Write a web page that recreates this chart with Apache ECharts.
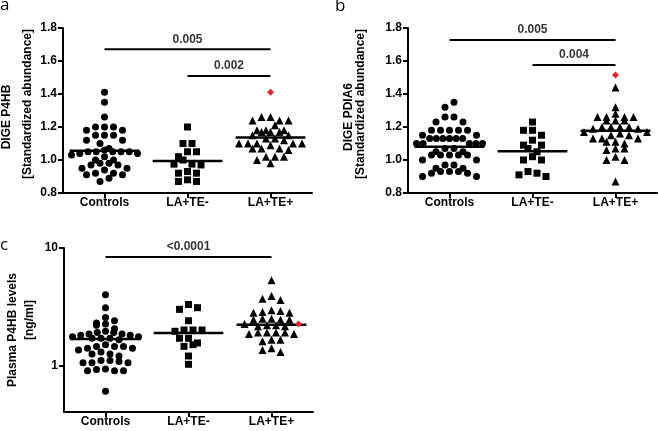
<!DOCTYPE html>
<html><head><meta charset="utf-8">
<script src="https://cdn.jsdelivr.net/npm/echarts@6/dist/echarts.min.js"></script>
<style>html,body{margin:0;padding:0;background:#fff}#c{width:658px;height:431px}</style>
</head><body><div id="c"></div>
<script>
const categories = ['Controls', 'LA+TE-', 'LA+TE+'];

// Panel a: DIGE P4HB
const aControls = [1.41, 1.35, 1.26, 1.20, 1.20, 1.20, 1.18, 1.18, 1.15, 1.15, 1.15, 1.12, 1.12, 1.10, 1.07, 1.06, 1.05, 1.05, 1.05, 1.05, 1.05, 1.04, 1.04, 1.03, 1.02, 1.00, 1.00, 0.98, 0.98, 0.97, 0.97, 0.95, 0.95, 0.94, 0.92, 0.92, 0.91, 0.91, 0.89, 0.87];
const aLaTeMinus = [1.20, 1.10, 1.10, 1.05, 1.05, 1.02, 1.00, 0.975, 0.975, 0.97, 0.93, 0.92, 0.92, 0.88, 0.87, 0.87];
const aLaTePlus = [1.26, 1.26, 1.24, 1.24, 1.24, 1.21, 1.18, 1.18, 1.18, 1.17, 1.17, 1.17, 1.15, 1.15, 1.13, 1.13, 1.12, 1.10, 1.10, 1.10, 1.10, 1.10, 1.09, 1.07, 1.07, 1.07, 1.06, 1.02, 1.02, 1.02, 1.00, 0.98];
const aRed = 1.41;
const aCenter = [1.056, 0.994, 1.137];
const aSigValues = [1.671, 1.509];
const aSigLabels = ['0.005', '0.002'];
const aSigFrom = [0, 1];
const aSigTo = [2, 2];

// Panel b: DIGE PDIA6
const bControls = [1.35, 1.32, 1.26, 1.26, 1.23, 1.23, 1.18, 1.18, 1.18, 1.18, 1.18, 1.15, 1.15, 1.13, 1.13, 1.13, 1.13, 1.13, 1.13, 1.10, 1.10, 1.10, 1.10, 1.10, 1.07, 1.07, 1.05, 1.05, 1.03, 1.03, 1.03, 1.03, 1.03, 1.00, 1.00, 0.97, 0.97, 0.95, 0.95, 0.93, 0.93, 0.93, 0.92, 0.92, 0.90, 0.90];
const bLaTeMinus = [1.23, 1.18, 1.18, 1.15, 1.12, 1.09, 1.09, 1.07, 1.05, 1.02, 1.00, 1.00, 0.93, 0.92, 0.91, 0.90];
const bLaTePlus = [1.44, 1.32, 1.26, 1.26, 1.26, 1.26, 1.28, 1.24, 1.24, 1.24, 1.20, 1.20, 1.20, 1.20, 1.19, 1.19, 1.17, 1.17, 1.16, 1.15, 1.15, 1.13, 1.13, 1.13, 1.11, 1.11, 1.10, 1.07, 1.07, 1.06, 1.02, 1.00, 1.00, 0.87];
const bRed = 1.515;
const bCenter = [1.08, 1.053, 1.177];
const bSigValues = [1.727, 1.576];
const bSigLabels = ['0.005', '0.004'];
const bSigFrom = [0, 1];
const bSigTo = [2, 2];

// Panel c: Plasma P4HB levels (log axis)
const cControls = [4.0, 3.1, 2.55, 2.4, 2.3, 2.25, 2.2, 2.05, 1.95, 1.9, 1.9, 1.85, 1.85, 1.8, 1.8, 1.75, 1.75, 1.7, 1.7, 1.7, 1.65, 1.5, 1.45, 1.45, 1.45, 1.4, 1.4, 1.35, 1.3, 1.25, 1.25, 1.2, 1.1, 1.1, 1.08, 1.05, 1.05, 1.05, 0.93, 0.92, 0.9, 0.9, 0.9, 0.6];
const cLaTeMinus = [3.3, 3.0, 3.1, 2.4, 2.0, 1.95, 2.0, 2.0, 1.7, 1.7, 1.5, 1.45, 1.55, 1.2, 1.02];
const cLaTePlus = [5.3, 3.9, 3.7, 3.6, 2.9, 2.85, 2.8, 2.95, 2.8, 2.5, 2.45, 2.45, 2.5, 2.45, 2.2, 2.2, 2.25, 2.15, 2.15, 1.9, 1.85, 1.9, 1.9, 1.85, 1.9, 1.65, 1.6, 1.65, 1.4, 1.3, 1.35];
const cRed = 2.25;
const cCenter = [1.68, 1.89, 2.22];
const cSigValues = [8.4];
const cSigLabels = ['<0.0001'];
const cSigFrom = [0];
const cSigTo = [2];
const cTicks = [1, 10];

// ---------- layout ----------
const grids = [
  {left: 63, top: 28, width: 249, height: 165},
  {left: 408, top: 28, width: 249, height: 165},
  {left: 64, top: 248, width: 249, height: 164}
];
const FONT = 'Liberation Sans, Arial, sans-serif';
const symbols = ['circle', 'rect', 'triangle'];
const symSizes = [7, 7, 8];
const HALF = 0.42;
const ROW_H = 6;      // px: points closer than this share a row
const STEP = 9;       // px: spacing inside a row
const MAX_W = 66;     // px: widest row

// Prism-like column scatter: bin by pixel height, spread each row symmetrically
function rowLayout(py, rightIdx) {
  const order = py.map((v, i) => i).sort((a, b) => py[b] - py[a]);
  const bins = [];
  let cur = null;
  for (const i of order) {
    if (!cur || cur.y0 - py[i] > ROW_H) { cur = {y0: py[i], items: []}; bins.push(cur); }
    cur.items.push(i);
  }
  const xs = new Array(py.length).fill(0);
  bins.forEach((b, bi) => {
    const n = b.items.length;
    const s = n > 1 ? Math.min(STEP, MAX_W / (n - 1)) : 0;
    const slots = [];
    for (let j = 0; j < n; j++) slots.push((j - (n - 1) / 2) * s);
    const dir = bi % 2 ? 1 : -1;
    slots.sort((a, b2) => (Math.abs(a) - Math.abs(b2)) || (a - b2) * dir);
    let items = b.items.slice();
    if (items.indexOf(rightIdx) >= 0) {
      items = items.filter(i => i !== rightIdx);
      const maxSlot = Math.max.apply(null, slots);
      slots.splice(slots.indexOf(maxSlot), 1);
      xs[rightIdx] = maxSlot;
    }
    items.forEach((i, j) => { xs[i] = slots[j]; });
  });
  return xs;
}

function buildPanel(gi, groups, red, center, sigV, sigL, sigF, sigT, toPx) {
  const g = grids[gi];
  const pxPerCat = g.width / 3;
  const series = [];
  groups.forEach((vals, k) => {
    const all = k === 2 ? vals.concat([red]) : vals.slice();
    const py = all.map(toPx);
    const xs = rowLayout(py, k === 2 ? vals.length : -1);
    const pts = vals.map((v, j) => [k + xs[j] / pxPerCat, v]);
    series.push({
      type: 'scatter', xAxisIndex: gi, yAxisIndex: gi, symbol: symbols[k], symbolSize: symSizes[k],
      itemStyle: {color: '#000', opacity: 1}, data: pts, z: 2, silent: true
    });
    if (k === 2) {
      series.push({
        type: 'scatter', xAxisIndex: gi, yAxisIndex: gi, symbol: 'diamond', symbolSize: 7,
        itemStyle: {color: '#e3262b', opacity: 1}, data: [[k + xs[vals.length] / pxPerCat, red]], z: 4, silent: true
      });
    }
    series.push({
      type: 'line', xAxisIndex: gi, yAxisIndex: gi, symbol: 'none', silent: true, z: 3,
      lineStyle: {color: '#000', width: 2.5}, data: [[k - HALF, center[k]], [k + HALF, center[k]]]
    });
  });
  sigV.forEach((v, s) => {
    series.push({
      type: 'line', xAxisIndex: gi, yAxisIndex: gi, symbol: 'none', silent: true,
      lineStyle: {color: '#000', width: 2}, data: [[sigF[s], v], [sigT[s], v]]
    });
    series.push({
      type: 'scatter', xAxisIndex: gi, yAxisIndex: gi, symbolSize: 0, silent: true,
      data: [{value: [(sigF[s] + sigT[s]) / 2, v], name: sigL[s]}],
      label: {show: true, position: 'top', distance: 4, formatter: '{b}', color: '#000',
        fontWeight: 'bold', fontSize: 12, fontFamily: FONT}
    });
  });
  return series;
}

const linA = v => (v - 0.8) * grids[0].height / 1.0;
const linB = v => (v - 0.8) * grids[1].height / 1.0;
const logC = v => Math.log10(v) * grids[2].height / (1 - Math.log10(0.4));

const series = [].concat(
  buildPanel(0, [aControls, aLaTeMinus, aLaTePlus], aRed, aCenter, aSigValues, aSigLabels, aSigFrom, aSigTo, linA),
  buildPanel(1, [bControls, bLaTeMinus, bLaTePlus], bRed, bCenter, bSigValues, bSigLabels, bSigFrom, bSigTo, linB),
  buildPanel(2, [cControls, cLaTeMinus, cLaTePlus], cRed, cCenter, cSigValues, cSigLabels, cSigFrom, cSigTo, logC)
);

const axisLineStyle = {color: '#000', width: 2};
const labelStyle = {color: '#000', fontWeight: 'bold', fontSize: 12, fontFamily: FONT};

const xAxes = grids.map((g, i) => ({
  gridIndex: i, type: 'value', min: -0.5, max: 2.5,
  splitLine: {show: false},
  axisLine: {show: true, onZero: false, lineStyle: axisLineStyle},
  axisTick: {show: true, customValues: [0, 1, 2], length: 5, lineStyle: axisLineStyle},
  axisLabel: Object.assign({customValues: [0, 1, 2], margin: 4, formatter: v => categories[Math.round(v)]}, labelStyle)
}));

const yAxes = [0, 1].map(i => ({
  gridIndex: i, type: 'value', min: 0.8, max: 1.8, interval: 0.2,
  splitLine: {show: false},
  axisLine: {show: true, onZero: false, lineStyle: axisLineStyle},
  axisTick: {show: true, length: 5, lineStyle: axisLineStyle},
  axisLabel: Object.assign({margin: 6, formatter: v => v.toFixed(1)}, labelStyle)
}));
yAxes.push({
  gridIndex: 2, type: 'log', logBase: 10, min: 0.4, max: 10,
  splitLine: {show: false}, minorTick: {show: false},
  axisLine: {show: true, onZero: false, lineStyle: axisLineStyle},
  axisTick: {show: true, length: 5, customValues: cTicks, lineStyle: axisLineStyle},
  axisLabel: Object.assign({margin: 6, customValues: cTicks, formatter: v => String(Math.round(v))}, labelStyle)
});

const titleFont = 'bold 12px ' + FONT;
const panelFont = '17px "Open Sans", sans-serif';
function vtext(x, y, t) {
  return {type: 'text', x: x, y: y, rotation: Math.PI / 2,
    style: {text: t, font: titleFont, fill: '#000', align: 'center', verticalAlign: 'middle'}};
}
function ptext(x, y, t) {
  return {type: 'text', x: x, y: y,
    style: {text: t, font: panelFont, fill: '#000', align: 'left', verticalAlign: 'middle'}};
}

const chart = echarts.init(document.getElementById('c'), null, {renderer: 'canvas'});
chart.setOption({
  animation: false,
  backgroundColor: '#fff',
  grid: grids.map(g => Object.assign({containLabel: false}, g)),
  xAxis: xAxes,
  yAxis: yAxes,
  series: series,
  graphic: [
    ptext(0, 5, 'a'), ptext(335, 6, 'b'), ptext(0, 245, 'c'),
    vtext(7, 117, 'DIGE P4HB'), vtext(28, 104, '[Standardized abundance]'),
    vtext(349, 117, 'DIGE PDIA6'), vtext(361, 104, '[Standardized abundance]'),
    vtext(13, 330, 'Plasma P4HB levels'), vtext(30, 320, '[ng/ml]')
  ]
});
</script>
</body></html>
